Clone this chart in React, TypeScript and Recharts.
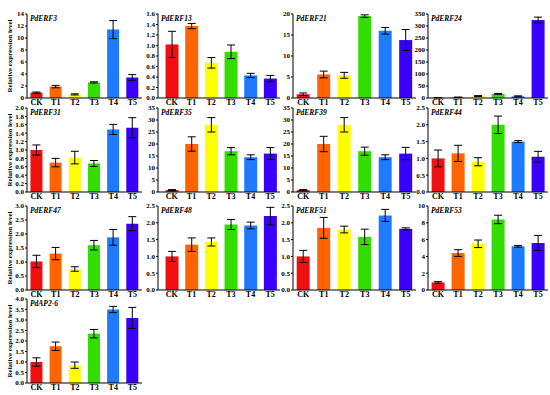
import React from "react";
import { BarChart, Bar, XAxis, YAxis, Cell, ErrorBar } from "recharts";

const categories = ["CK", "T1", "T2", "T3", "T4", "T5"];
const barColors = ["#f01010", "#ff6400", "#ffff00", "#33dd00", "#1e7bff", "#3a00ff"];

const erf3 = [0.9, 1.9, 0.6, 2.6, 11.4, 3.4];
const erf3Err = [0.1, 0.2, 0.1, 0.1, 1.5, 0.5];
const erf13 = [1.02, 1.37, 0.67, 0.88, 0.43, 0.37];
const erf13Err = [0.25, 0.05, 0.1, 0.13, 0.04, 0.06];
const erf21 = [0.9, 5.6, 5.4, 19.5, 16.0, 13.8];
const erf21Err = [0.3, 0.8, 0.7, 0.3, 0.8, 2.5];
const erf24 = [1, 3, 8, 17, 7, 325];
const erf24Err = [0.5, 1, 2, 2, 2, 12];
const erf31 = [1.0, 0.7, 0.82, 0.68, 1.49, 1.53];
const erf31Err = [0.12, 0.1, 0.15, 0.07, 0.12, 0.24];
const erf35 = [0.8, 20, 28, 17, 14.5, 16];
const erf35Err = [0.2, 3, 3, 1.5, 1, 2.5];
const erf39 = [0.8, 20, 28, 17, 14.5, 16];
const erf39Err = [0.2, 3.2, 3, 1.7, 1, 2.6];
const erf44 = [1.0, 1.15, 0.9, 2.0, 1.5, 1.05];
const erf44Err = [0.25, 0.24, 0.12, 0.26, 0.03, 0.16];
const erf47 = [1.02, 1.3, 0.75, 1.6, 1.88, 2.37];
const erf47Err = [0.22, 0.22, 0.08, 0.17, 0.28, 0.25];
const erf48 = [1.0, 1.35, 1.43, 1.95, 1.92, 2.2];
const erf48Err = [0.15, 0.2, 0.12, 0.15, 0.1, 0.26];
const erf51 = [1.0, 1.85, 1.8, 1.58, 2.22, 1.82];
const erf51Err = [0.18, 0.31, 0.1, 0.23, 0.18, 0.03];
const erf53 = [0.9, 4.4, 5.5, 8.4, 5.2, 5.6];
const erf53Err = [0.1, 0.4, 0.45, 0.5, 0.1, 0.9];
const ap26 = [1.0, 1.75, 0.85, 2.35, 3.5, 3.1];
const ap26Err = [0.2, 0.2, 0.15, 0.2, 0.15, 0.5];

const ticks3 = [0, 2, 4, 6, 8, 10, 12, 14];
const ticks13 = [0, 0.2, 0.4, 0.6, 0.8, 1.0, 1.2, 1.4, 1.6];
const ticks21 = [0, 5, 10, 15, 20];
const ticks24 = [0, 50, 100, 150, 200, 250, 300, 350];
const ticks31 = [0, 0.2, 0.4, 0.6, 0.8, 1.0, 1.2, 1.4, 1.6, 1.8, 2.0];
const ticks35 = [0, 5, 10, 15, 20, 25, 30, 35];
const ticks25 = [0, 0.5, 1.0, 1.5, 2.0, 2.5];
const ticks30 = [0, 0.5, 1.0, 1.5, 2.0, 2.5, 3.0];
const ticks53 = [0, 2, 4, 6, 8, 10];
const ticks40 = [0, 0.5, 1.0, 1.5, 2.0, 2.5, 3.0, 3.5, 4.0];

const colX = [27, 158, 293, 428];
const colW = [115, 122, 123, 120];
const rowY = [14, 108, 206, 299];
const plotH = 84;
const font = "'Liberation Serif', 'Times New Roman', serif";

interface PanelProps {
  title: string;
  values: number[];
  errs: number[];
  ticks: number[];
  decimals: number;
  col: number;
  row: number;
}

function Panel({ title, values, errs, ticks, decimals, col, row }: PanelProps) {
  const data = categories.map((c, i) => ({ name: c, value: values[i], err: errs[i] }));
  const yW = col === 0 ? 27 : 24;
  const left = colX[col] - yW;
  const top = rowY[row] - 5;
  const width = yW + colW[col];
  const height = plotH + 5 + 11;
  return (
    <div style={{ position: "absolute", left, top, width, height }}>
      <BarChart
        width={width}
        height={height}
        data={data}
        margin={{ top: 5, right: 0, bottom: 0, left: 0 }}
        barCategoryGap="18%"
      >
        <XAxis
          dataKey="name"
          axisLine={{ stroke: "#000" }}
          tickLine={false}
          tickSize={1}
          tickMargin={0}
          height={11}
          interval={0}
          padding={{ left: col === 1 ? 4 : 0, right: 0 }}
          tick={{ fontSize: 8, fontWeight: "bold", fill: "#000", fontFamily: font }}
        />
        <YAxis
          width={yW}
          domain={[0, ticks[ticks.length - 1]]}
          ticks={ticks}
          interval={0}
          axisLine={{ stroke: "#000" }}
          tickLine={{ stroke: "#000" }}
          tickSize={2}
          tickMargin={1}
          tickFormatter={(v: number) => v.toFixed(decimals)}
          tick={{ fontSize: 7, fontWeight: "bold", fill: "#000", fontFamily: font }}
          label={
            col === 0
              ? {
                  value: "Relative expression level",
                  angle: -90,
                  position: "insideLeft",
                  offset: 10,
                  style: {
                    textAnchor: "middle",
                    fontSize: 7,
                    fontWeight: "bold",
                    fill: "#000",
                    fontFamily: font,
                  },
                }
              : undefined
          }
        />
        <Bar dataKey="value" isAnimationActive={false}>
          {data.map((d, i) => (
            <Cell key={d.name} fill={barColors[i]} />
          ))}
          <ErrorBar
            dataKey="err"
            width={4}
            stroke="#000"
            strokeWidth={1}
            direction="y"
            isAnimationActive={false}
          />
        </Bar>
      </BarChart>
      <div
        style={{
          position: "absolute",
          left: yW + 3,
          top: 6,
          fontSize: 7.5,
          fontWeight: "bold",
          fontStyle: "italic",
          fontFamily: font,
          color: "#000",
          lineHeight: 1,
        }}
      >
        {title}
      </div>
    </div>
  );
}

export default function App() {
  return (
    <div
      style={{
        position: "absolute",
        left: 0,
        top: 0,
        width: 550,
        height: 395,
        background: "#fff",
        overflow: "hidden",
      }}
    >
      <Panel title="PdERF3" values={erf3} errs={erf3Err} ticks={ticks3} decimals={0} col={0} row={0} />
      <Panel title="PdERF13" values={erf13} errs={erf13Err} ticks={ticks13} decimals={1} col={1} row={0} />
      <Panel title="PdERF21" values={erf21} errs={erf21Err} ticks={ticks21} decimals={0} col={2} row={0} />
      <Panel title="PdERF24" values={erf24} errs={erf24Err} ticks={ticks24} decimals={0} col={3} row={0} />
      <Panel title="PdERF31" values={erf31} errs={erf31Err} ticks={ticks31} decimals={1} col={0} row={1} />
      <Panel title="PdERF35" values={erf35} errs={erf35Err} ticks={ticks35} decimals={0} col={1} row={1} />
      <Panel title="PdERF39" values={erf39} errs={erf39Err} ticks={ticks35} decimals={0} col={2} row={1} />
      <Panel title="PdERF44" values={erf44} errs={erf44Err} ticks={ticks25} decimals={1} col={3} row={1} />
      <Panel title="PdERF47" values={erf47} errs={erf47Err} ticks={ticks30} decimals={1} col={0} row={2} />
      <Panel title="PdERF48" values={erf48} errs={erf48Err} ticks={ticks25} decimals={1} col={1} row={2} />
      <Panel title="PdERF51" values={erf51} errs={erf51Err} ticks={ticks25} decimals={1} col={2} row={2} />
      <Panel title="PdERF53" values={erf53} errs={erf53Err} ticks={ticks53} decimals={0} col={3} row={2} />
      <Panel title="PdAP2-6" values={ap26} errs={ap26Err} ticks={ticks40} decimals={1} col={0} row={3} />
    </div>
  );
}
